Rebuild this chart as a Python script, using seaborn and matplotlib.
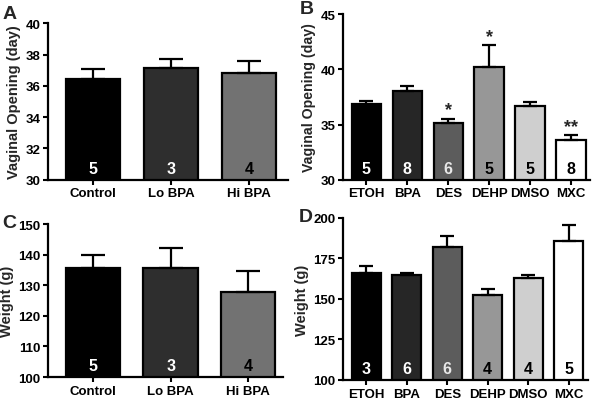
import matplotlib
matplotlib.use("Agg")
import matplotlib.pyplot as plt
import seaborn as sns
import pandas as pd

sns.set_style("ticks")
plt.rcParams["font.family"] = ["Liberation Sans", "DejaVu Sans"]
plt.rcParams["font.weight"] = "bold"

# panel A / C groups
groups_ac = ["Control", "Lo BPA", "Hi BPA"]
vo_a = [36.45, 37.15, 36.85]
vo_a_err = [0.6, 0.55, 0.75]
n_a = ["5", "3", "4"]
wt_c = [135.6, 135.8, 127.8]
wt_c_err = [4.2, 6.5, 6.9]
n_c = ["5", "3", "4"]

# panel B / D groups
groups_bd = ["ETOH", "BPA", "DES", "DEHP", "DMSO", "MXC"]
vo_b = [36.85, 38.0, 35.1, 40.25, 36.65, 33.6]
vo_b_err = [0.3, 0.45, 0.45, 1.95, 0.4, 0.45]
stars_b = ["", "", "*", "*", "", "**"]
n_b = ["5", "8", "6", "5", "5", "8"]
wt_d = [166.0, 164.6, 182.2, 152.6, 163.2, 185.9]
wt_d_err = [4.2, 1.5, 6.6, 3.6, 1.6, 9.6]
n_d = ["3", "6", "6", "4", "4", "5"]

colors_ac = ["#000000", "#2e2e2e", "#727272"]
colors_bd = ["#000000", "#262626", "#5c5c5c", "#979797", "#cfcfcf", "#ffffff"]
text_ac = ["white", "white", "black"]
text_bd = ["white", "white", "#e8e8e8", "black", "black", "black"]


def panel(ax, cats, vals, errs, counts, colors, tcolors, ylim, yticks, ylabel,
          stars=None, xlim=None, width=0.7, capsize=8, label_size=10.5):
    df = pd.DataFrame({"group": cats, "value": vals})
    sns.barplot(data=df, x="group", y="value", hue="group", palette=colors,
                order=cats, hue_order=cats, errorbar=None, width=width,
                edgecolor="black", linewidth=1.6, legend=False, ax=ax)
    ax.errorbar(range(len(cats)), vals, yerr=[[0] * len(cats), errs], fmt="none",
                ecolor="black", elinewidth=1.6, capsize=capsize, capthick=1.6,
                zorder=1)
    lo, hi = ylim
    for i, (c, tc) in enumerate(zip(counts, tcolors)):
        ax.text(i, lo + (hi - lo) * 0.025, c, color=tc, ha="center", va="bottom",
                fontsize=11.5, fontweight="bold")
    if stars:
        for i, s in enumerate(stars):
            if s:
                ax.text(i, vals[i] + errs[i], s, ha="center", va="bottom",
                        fontsize=13, fontweight="bold")
    ax.set_ylim(lo, hi)
    ax.set_yticks(yticks)
    ax.set_xlim(*xlim)
    ax.set_xlabel("")
    ax.set_ylabel(ylabel, fontsize=label_size, fontweight="bold", labelpad=3)
    ax.tick_params(axis="both", labelsize=9.5, width=1.5, length=3.5, pad=2,
                   colors="black")
    for lab in ax.get_xticklabels() + ax.get_yticklabels():
        lab.set_fontweight("bold")
    for sp in ["left", "bottom"]:
        ax.spines[sp].set_linewidth(1.6)
        ax.spines[sp].set_color("black")
    sns.despine(ax=ax)


fig = plt.figure(figsize=(6.01, 4.10), dpi=100)
ax_a = fig.add_axes([0.080, 0.559, 0.399, 0.382])
ax_b = fig.add_axes([0.571, 0.559, 0.411, 0.404])
ax_c = fig.add_axes([0.080, 0.078, 0.391, 0.373])
ax_d = fig.add_axes([0.571, 0.071, 0.407, 0.395])

panel(ax_a, groups_ac, vo_a, vo_a_err, n_a, colors_ac, text_ac, (30, 40),
      [30, 32, 34, 36, 38, 40], "Vaginal Opening (day)", xlim=(-0.58, 2.5),
      capsize=8.5)
panel(ax_b, groups_bd, vo_b, vo_b_err, n_b, colors_bd, text_bd, (30, 45),
      [30, 35, 40, 45], "Vaginal Opening (day)", stars=stars_b,
      xlim=(-0.57, 5.47), width=0.72, capsize=5, label_size=10.2)
panel(ax_c, groups_ac, wt_c, wt_c_err, n_c, colors_ac, text_ac, (100, 150),
      [100, 110, 120, 130, 140, 150], "Weight (g)", xlim=(-0.58, 2.45),
      capsize=8.5)
panel(ax_d, groups_bd, wt_d, wt_d_err, n_d, colors_bd, text_bd, (100, 200),
      [100, 125, 150, 175, 200], "Weight (g)", xlim=(-0.57, 5.47),
      width=0.72, capsize=5)

for lab, x, y in [("A", 0.004, 0.985), ("B", 0.499, 0.997),
                  ("C", 0.004, 0.475), ("D", 0.497, 0.490)]:
    fig.text(x, y, lab, fontsize=14, fontweight="bold", va="top", ha="left")

fig.savefig("out.png", dpi=100)
